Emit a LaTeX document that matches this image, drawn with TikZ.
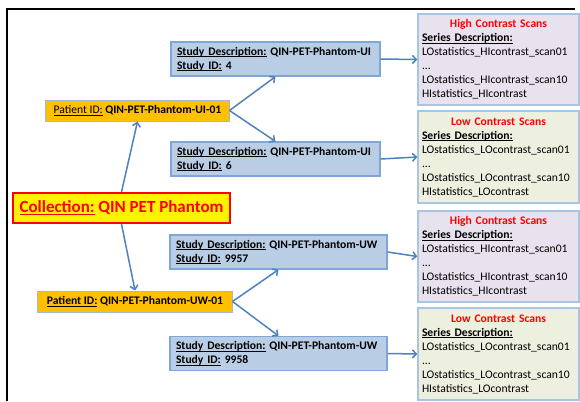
\documentclass[tikz,border=0pt]{standalone}
\usepackage{fontspec}
\setmainfont{Carlito}
\usetikzlibrary{arrows.meta}
\definecolor{arrowblue}{HTML}{4F81BD}
\definecolor{studyfill}{HTML}{B9CDE5}
\definecolor{studyline}{HTML}{7FA6D6}
\definecolor{patfill}{HTML}{FFC000}
\definecolor{patline}{HTML}{9DB9DB}
\definecolor{hifill}{HTML}{E8E1EE}
\definecolor{lofill}{HTML}{EDF0DF}
\definecolor{scanline}{HTML}{A9C5E6}
\definecolor{redtxt}{HTML}{FF0000}
\newcommand{\scantitle}[1]{\makebox[\linewidth][c]{\textbf{\textcolor{redtxt}{#1}}}}
\newsavebox{\ulbox}
\newcommand{\myul}[1]{\leavevmode\sbox{\ulbox}{#1}\rlap{\rule[-1.7bp]{\wd\ulbox}{0.7bp}}\usebox{\ulbox}}
\begin{document}
\begin{tikzpicture}[x=1bp,y=-1bp,
  studybox/.style={draw=studyline, line width=1.2bp, fill=studyfill, minimum height=34bp, inner xsep=6bp, inner ysep=0bp, align=left, font=\fontsize{11.6bp}{14bp}\selectfont\bfseries, anchor=center},
  patbox/.style={draw=patline, line width=1bp, fill=patfill, minimum height=21bp, inner xsep=6bp, inner ysep=0bp, font=\fontsize{11.6bp}{13bp}\selectfont, anchor=center},
  scanbox/.style={draw=scanline, line width=1.2bp, minimum width=161bp, text width=153bp, inner xsep=4bp, inner ysep=0bp, align=left, font=\fontsize{11.6bp}{14bp}\selectfont, anchor=center},
  conn/.style={draw=arrowblue, line width=1.5bp, -{Straight Barb[length=4bp,width=8bp]}}
]
\useasboundingbox (0,0) rectangle (580,401);
% frame
\draw[black, line width=1.3bp] (7,401) -- (7,9) -- (575,9);

% collection
\node[draw=redtxt, line width=2bp, fill=yellow, minimum width=217bp, minimum height=30bp, inner sep=0bp, font=\fontsize{17bp}{19bp}\selectfont\bfseries, text=redtxt] (col) at (121.5,208) {\myul{Collection:} QIN PET Phantom};

% patients
\node[patbox, minimum width=183bp] (pui) at (137.5,110.5) {\myul{Patient ID:} \textbf{QIN-PET-Phantom-UI-01}};
\node[patbox, minimum width=194bp] (puw) at (135,301.5) {\myul{\textbf{Patient ID:}} \textbf{QIN-PET-Phantom-UW-01}};

% studies
\node[studybox, minimum width=209bp, text width=197bp] (s4) at (275.5,59) {\myul{Study Description:} QIN-PET-Phantom-UI\\\myul{Study ID:} 4};
\node[studybox, minimum width=209bp, text width=197bp] (s6) at (275.5,159) {\myul{Study Description:} QIN-PET-Phantom-UI\\\myul{Study ID:} 6};
\node[studybox, minimum width=217bp, text width=205bp] (s57) at (278.5,252) {\myul{Study Description:} QIN-PET-Phantom-UW\\\myul{Study ID:} 9957};
\node[studybox, minimum width=217bp, text width=205bp] (s58) at (278.5,353.5) {\myul{Study Description:} QIN-PET-Phantom-UW\\\myul{Study ID:} 9958};

% scans
\node[scanbox, fill=hifill, minimum height=91bp] (hu) at (498.5,59.5) {\scantitle{High Contrast Scans}\\\myul{\textbf{Series Description:}}\\LOstatistics\_HIcontrast\_scan01\\...\\LOstatistics\_HIcontrast\_scan10\\HIstatistics\_HIcontrast};
\node[scanbox, fill=lofill, minimum height=92bp] (lu) at (498.5,157) {\scantitle{Low Contrast Scans}\\\myul{\textbf{Series Description:}}\\LOstatistics\_LOcontrast\_scan01\\...\\LOstatistics\_LOcontrast\_scan10\\HIstatistics\_LOcontrast};
\node[scanbox, fill=hifill, minimum height=91bp] (hw) at (498.5,256.5) {\scantitle{High Contrast Scans}\\\myul{\textbf{Series Description:}}\\LOstatistics\_HIcontrast\_scan01\\...\\LOstatistics\_HIcontrast\_scan10\\HIstatistics\_HIcontrast};
\node[scanbox, fill=lofill, minimum height=92bp] (lw) at (498.5,354) {\scantitle{Low Contrast Scans}\\\myul{\textbf{Series Description:}}\\LOstatistics\_LOcontrast\_scan01\\...\\LOstatistics\_LOcontrast\_scan10\\HIstatistics\_LOcontrast};

% connectors
\draw[conn] (col.north) -- (pui.south);
\draw[conn] (col.south) -- (puw.north);
\draw[conn] (pui.east) -- (s4.south);
\draw[conn] (pui.east) -- (s6.north);
\draw[conn] (puw.east) -- (s57.south);
\draw[conn] (puw.east) -- (s58.north);
\draw[conn] (s4.east) -- (hu.west);
\draw[conn] (s6.east) -- (lu.west);
\draw[conn] (s57.east) -- (hw.west);
\draw[conn] (s58.east) -- (lw.west);
\end{tikzpicture}
\end{document}
